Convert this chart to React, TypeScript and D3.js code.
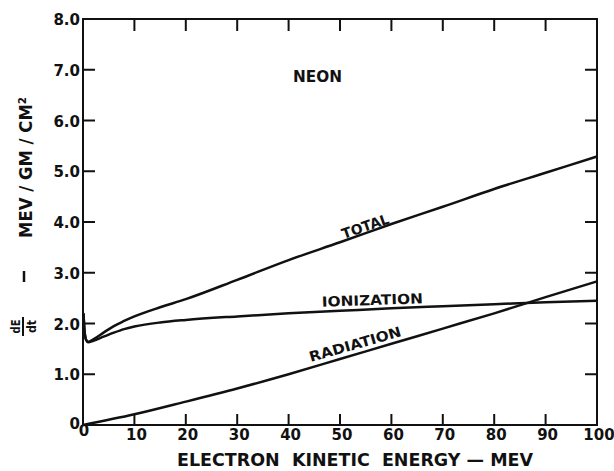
import { useEffect, useRef } from 'react';
import * as d3 from 'd3';

// values (MeV/gm/cm^2 vs electron kinetic energy, MeV)
const energy = [0.1, 0.3, 0.6, 1, 2, 4, 6, 8, 10, 15, 20, 30, 40, 50, 60, 70, 80, 90, 100];
const ionization = [2.2, 1.85, 1.68, 1.63, 1.66, 1.74, 1.82, 1.89, 1.94, 2.02, 2.07, 2.14, 2.2, 2.25, 2.3, 2.34, 2.38, 2.42, 2.45];
const total = [2.2, 1.85, 1.68, 1.64, 1.69, 1.82, 1.95, 2.05, 2.14, 2.32, 2.48, 2.86, 3.25, 3.6, 3.96, 4.3, 4.65, 4.97, 5.29];
const radEnergy = [0, 10, 20, 30, 40, 50, 60, 70, 80, 90, 100];
const radiation = [0, 0.21, 0.46, 0.72, 1.0, 1.3, 1.6, 1.9, 2.2, 2.52, 2.83];

const xTicks = [0, 10, 20, 30, 40, 50, 60, 70, 80, 90, 100];
const yTicks = [0, 1, 2, 3, 4, 5, 6, 7, 8];

const W = 614;
const H = 471;
const margin = { top: 19, right: 17, bottom: 46, left: 83 };
const FONT = '"DejaVu Sans", "Liberation Sans", sans-serif';
const INK = '#111';

export default function App() {
    const ref = useRef<SVGSVGElement | null>(null);

    useEffect(() => {
        const svg = d3.select(ref.current);
        svg.selectAll('*').remove();

        const x = d3.scaleLinear().domain([0, 100]).range([margin.left, W - margin.right]);
        const y = d3.scaleLinear().domain([0, 8]).range([H - margin.bottom, margin.top]);

        const g = svg.append('g');

        // frame
        g.append('rect')
            .attr('x', x(0)).attr('y', y(8))
            .attr('width', x(100) - x(0)).attr('height', y(0) - y(8))
            .attr('fill', 'none').attr('stroke', INK).attr('stroke-width', 2);

        // inward ticks on all four sides
        const inner = xTicks.slice(1, -1);
        const innerY = yTicks.slice(1, -1);
        const tickGroup = g.append('g').attr('stroke', INK).attr('stroke-width', 2);
        inner.forEach(d => {
            tickGroup.append('line')
                .attr('x1', x(d)).attr('x2', x(d))
                .attr('y1', y(0)).attr('y2', y(0) - 11);
            tickGroup.append('line')
                .attr('x1', x(d)).attr('x2', x(d))
                .attr('y1', y(8)).attr('y2', y(8) + 12);
        });
        innerY.forEach(d => {
            tickGroup.append('line')
                .attr('x1', x(0)).attr('x2', x(0) + 12)
                .attr('y1', y(d)).attr('y2', y(d));
            tickGroup.append('line')
                .attr('x1', x(100)).attr('x2', x(100) - 12)
                .attr('y1', y(d)).attr('y2', y(d));
        });

        // tick labels
        g.selectAll('text.xl').data(xTicks).enter().append('text')
            .attr('class', 'xl')
            .attr('x', d => x(d) + (d === 0 ? 1 : 2)).attr('y', d => y(0) + (d === 0 ? 11 : 15))
            .attr('text-anchor', 'middle')
            .attr('font-family', FONT).attr('font-weight', 'bold').attr('font-size', 15)
            .attr('fill', INK)
            .text(d => String(d));
        g.selectAll('text.yl').data(yTicks).enter().append('text')
            .attr('class', 'yl')
            .attr('x', x(0) - 3).attr('y', d => y(d) + (d === 0 ? 4 : 6))
            .attr('text-anchor', 'end')
            .attr('font-family', FONT).attr('font-weight', 'bold').attr('font-size', 15)
            .attr('fill', INK)
            .text(d => (d === 0 ? '0' : d.toFixed(1)));

        // curves
        const line = d3.line<[number, number]>()
            .x(d => x(d[0]))
            .y(d => y(d[1]))
            .curve(d3.curveMonotoneX);

        const series: [number, number][][] = [
            energy.map((e, i) => [e, total[i]]),
            energy.map((e, i) => [e, ionization[i]]),
            radEnergy.map((e, i) => [e, radiation[i]]),
        ];
        g.selectAll('path.curve').data(series).enter().append('path')
            .attr('class', 'curve')
            .attr('d', d => line(d))
            .attr('fill', 'none').attr('stroke', INK).attr('stroke-width', 2.5)
            .attr('stroke-linejoin', 'round');

        // curve labels, stretched to the widths seen in the reference
        const label = (txt: string, cx: number, cy: number, angle: number, size: number, len: number) => {
            g.append('text')
                .attr('transform', `translate(${cx},${cy}) rotate(${angle})`)
                .attr('text-anchor', 'middle')
                .attr('font-family', FONT).attr('font-weight', 'bold').attr('font-size', size)
                .attr('textLength', len).attr('lengthAdjust', 'spacingAndGlyphs')
                .attr('fill', INK)
                .text(txt);
        };
        label('NEON', 317.5, 82, 0, 15, 49);
        label('TOTAL', 367, 231, -19, 14, 49);
        label('IONIZATION', 372.5, 305, -2, 14, 101);
        label('RADIATION', 356.5, 349, -16, 14, 95);

        // x axis title
        g.append('text')
            .attr('x', 355).attr('y', 466)
            .attr('text-anchor', 'middle')
            .attr('font-family', FONT).attr('font-weight', 'bold').attr('font-size', 18)
            .attr('textLength', 356).attr('lengthAdjust', 'spacingAndGlyphs')
            .attr('fill', INK)
            .attr('xml:space', 'preserve')
            .text('ELECTRON  KINETIC  ENERGY — MEV');

        // y axis title: dE/dt — MEV / GM / CM²
        g.append('text')
            .attr('transform', 'translate(32,167.5) rotate(-90)')
            .attr('text-anchor', 'middle')
            .attr('font-family', FONT).attr('font-weight', 'bold').attr('font-size', 18)
            .attr('textLength', 141).attr('lengthAdjust', 'spacingAndGlyphs')
            .attr('fill', INK)
            .text('MEV / GM / CM²');
        g.append('line')
            .attr('x1', 24).attr('x2', 24).attr('y1', 271).attr('y2', 282)
            .attr('stroke', INK).attr('stroke-width', 2.5);
        g.append('text')
            .attr('transform', 'translate(19.5,326.5) rotate(-90)')
            .attr('text-anchor', 'middle')
            .attr('font-family', FONT).attr('font-weight', 'bold').attr('font-size', 13)
            .attr('textLength', 14).attr('lengthAdjust', 'spacingAndGlyphs')
            .attr('fill', INK)
            .text('dE');
        g.append('line')
            .attr('x1', 23).attr('x2', 23).attr('y1', 317).attr('y2', 336)
            .attr('stroke', INK).attr('stroke-width', 2);
        g.append('text')
            .attr('transform', 'translate(36,326.5) rotate(-90)')
            .attr('text-anchor', 'middle')
            .attr('font-family', FONT).attr('font-weight', 'bold').attr('font-size', 13)
            .attr('textLength', 13).attr('lengthAdjust', 'spacingAndGlyphs')
            .attr('fill', INK)
            .text('dt');
    }, []);

    return (
        <svg
            ref={ref}
            width={W}
            height={H}
            style={{ position: 'absolute', left: 0, top: 0, background: '#fff' }}
        />
    );
}
